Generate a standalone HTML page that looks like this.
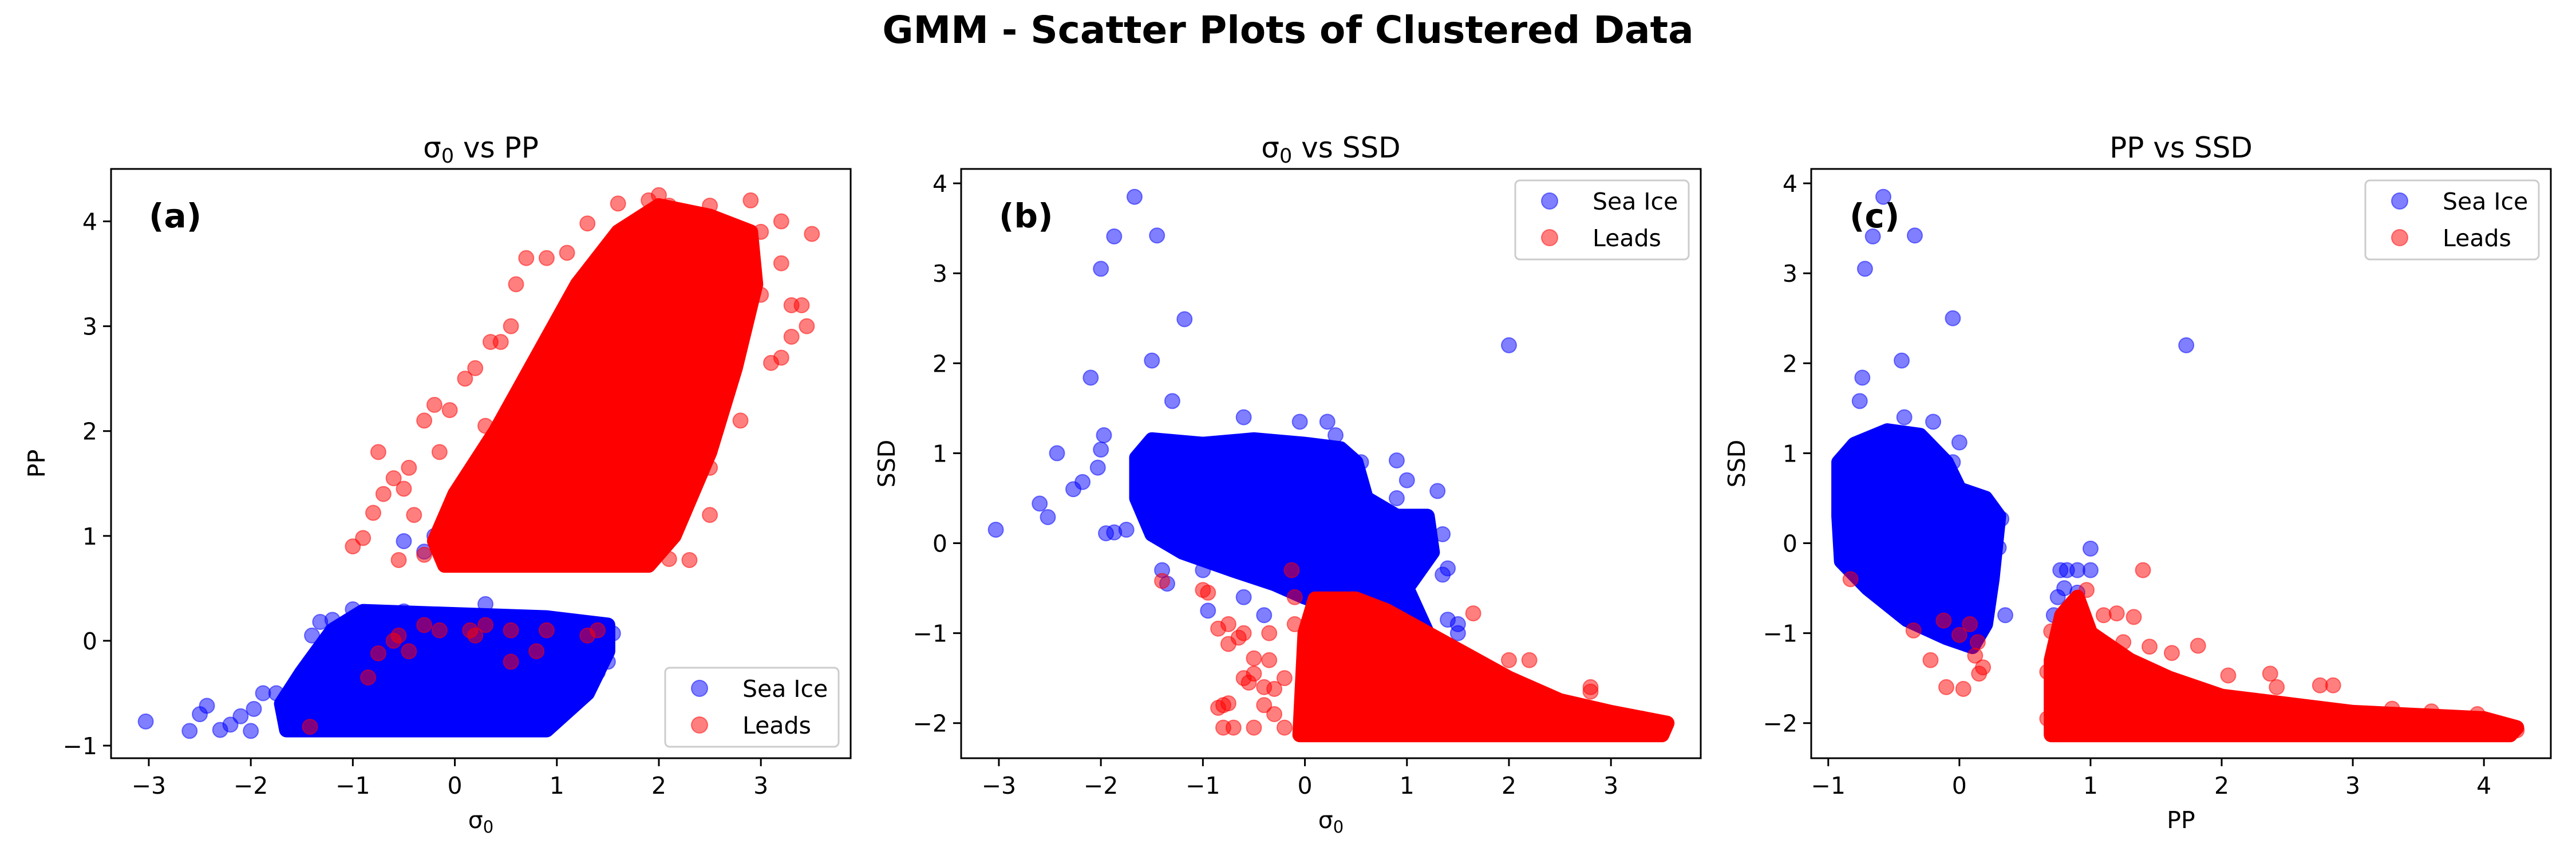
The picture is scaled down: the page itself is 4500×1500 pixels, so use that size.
<!DOCTYPE html>
<html><head><meta charset="utf-8"><style>
html,body{margin:0;padding:0;background:#fff;}
svg{display:block;font-family:"DejaVu Sans","Liberation Sans",sans-serif;}
</style></head><body>
<svg id="fig" width="4500" height="1500" viewBox="0 0 4500 1500" xmlns="http://www.w3.org/2000/svg">
<rect width="4500" height="1500" fill="#fff"/>
<text x="2250" y="75" text-anchor="middle" font-size="66" font-weight="bold">GMM - Scatter Plots of Clustered Data</text>
</svg>
<script>
// ---------- data (panel a: sigma0 vs PP) ----------
const aIceCore = [[-1.65,-0.85],[0.9,-0.85],[1.3,-0.5],[1.5,-0.1],[1.5,0.15],[0.9,0.22],[-0.9,0.28],[-1.2,0.1],[-1.5,-0.3],[-1.7,-0.6]];
const aIcePts = [[-3.03,-0.77],[-2.6,-0.86],[-2.5,-0.7],[-2.43,-0.62],[-2.3,-0.85],[-2.2,-0.8],[-2.1,-0.72],[-2.0,-0.86],[-1.97,-0.65],[-1.88,-0.5],[-1.75,-0.5],[-1.2,0.2],[-1.32,0.18],[-1.4,0.05],[1.4,-0.3],[1.5,-0.2],[1.55,0.07],[0.8,-0.75],[0.3,0.35],[-0.5,0.95],[-0.2,1.0],[-0.3,0.85],[-1.0,0.3],[-0.5,0.28],[0.6,-0.7],[1.1,-0.4]];
const aLeadCore = [[-0.1,0.72],[1.9,0.72],[2.15,1.0],[2.5,1.8],[2.75,2.6],[2.95,3.4],[2.9,3.9],[2.5,4.05],[2.0,4.15],[1.6,3.9],[1.2,3.4],[0.8,2.7],[0.4,2.0],[0,1.4],[-0.2,0.95]];
const aLeadPts = [[-1.0,0.9],[-0.9,0.98],[-0.75,1.8],[-0.8,1.22],[-0.7,1.4],[-0.6,1.55],[-0.5,1.45],[-0.4,1.2],[-0.45,1.65],[-0.3,2.1],[-0.2,2.25],[-0.15,1.8],[-0.05,2.2],[-0.55,0.77],[-0.3,0.82],[0.1,2.5],[0.2,2.6],[0.3,2.05],[0.35,2.85],[0.45,2.85],[0.55,3.0],[0.6,3.4],[0.7,3.65],[0.9,3.65],[1.1,3.7],[1.3,3.98],[1.6,4.17],[1.9,4.2],[2.0,4.25],[2.1,4.15],[2.5,4.15],[2.9,4.2],[3.2,4.0],[3.5,3.88],[3.2,3.6],[3.3,3.2],[3.45,3.0],[3.3,2.9],[3.1,2.65],[3.2,2.7],[2.8,2.1],[2.5,1.65],[2.3,0.77],[2.1,0.78],[3.0,3.9],[3.0,3.3],[2.8,3.0],[3.4,3.2],[2.7,2.5],[2.5,1.2],[-0.55,0.05],[-0.3,0.15],[-0.15,0.1],[0.15,0.1],[0.3,0.15],[0.55,0.1],[0.9,0.1],[1.3,0.05],[0.8,-0.1],[-0.75,-0.12],[-0.45,-0.1],[-0.85,-0.35],[0.55,-0.2],[-1.42,-0.82],[-0.6,0.0],[0.2,0.05],[1.4,0.1]];
// ---------- data (panel b: sigma0 vs SSD) ----------
const bIceCore = [[-1.65,0.95],[-1.5,1.15],[-1.0,1.1],[-0.5,1.15],[0,1.1],[0.35,1.05],[0.5,0.9],[0.6,0.5],[0.9,0.3],[1.2,0.3],[1.25,-0.1],[1.0,-0.5],[1.2,-1.0],[0.9,-1.0],[0.5,-0.8],[0,-0.6],[-0.3,-0.45],[-0.7,-0.3],[-1.2,-0.1],[-1.5,0.1],[-1.65,0.5]];
const bIcePts = [[-3.03,0.15],[-2.6,0.44],[-2.52,0.29],[-2.43,1.0],[-2.27,0.6],[-2.18,0.68],[-2.03,0.84],[-2.0,1.04],[-1.97,1.2],[-1.95,0.11],[-1.87,0.12],[-1.75,0.15],[-2.1,1.84],[-1.5,2.03],[-1.3,1.58],[-1.18,2.49],[-2.0,3.05],[-1.87,3.41],[-1.45,3.42],[-1.67,3.85],[2.0,2.2],[-0.6,1.4],[-0.05,1.35],[0.22,1.35],[0.9,0.92],[1.0,0.7],[1.3,0.58],[1.35,0.1],[1.4,-0.28],[1.35,-0.35],[-1.4,-0.3],[-1.35,-0.45],[-1.0,-0.3],[-0.95,-0.75],[1.5,-1.0],[1.5,-0.9],[1.4,-0.85],[0.55,0.9],[0.3,1.2],[-0.6,-0.6],[-0.4,-0.8],[0.9,0.5],[1.2,0.2]];
const bLeadCore = [[-0.05,-2.13],[3.5,-2.13],[3.55,-2.0],[3.0,-1.88],[2.5,-1.75],[2.0,-1.5],[1.6,-1.25],[1.2,-1.0],[0.8,-0.75],[0.5,-0.62],[0.1,-0.62],[0,-1.0]];
const bLeadPts = [[-1.4,-0.42],[-1.0,-0.52],[-0.95,-0.55],[-0.13,-0.3],[-0.75,-0.9],[-0.85,-0.95],[-0.6,-1.0],[-0.65,-1.05],[-0.75,-1.12],[-0.5,-1.28],[-0.35,-1.3],[-0.5,-1.45],[-0.6,-1.5],[-0.55,-1.55],[-0.4,-1.6],[-0.3,-1.62],[-0.85,-1.83],[-0.8,-1.8],[-0.75,-1.78],[-0.8,-2.05],[-0.7,-2.05],[-0.5,-2.05],[-0.4,-1.8],[1.65,-0.78],[2.0,-1.3],[2.2,-1.3],[2.8,-1.6],[2.8,-1.65],[3.0,-1.9],[3.3,-1.95],[3.5,-2.05],[0.7,-1.0],[0.9,-0.85],[1.2,-1.1],[-0.3,-1.9],[-0.2,-1.5],[-0.1,-0.9],[-0.2,-2.05],[-0.35,-1.0],[-0.1,-0.6]];
// ---------- data (panel c: PP vs SSD) ----------
const cIceCore = [[-0.92,0.9],[-0.8,1.1],[-0.55,1.25],[-0.3,1.2],[-0.1,0.9],[0.0,0.6],[0.2,0.5],[0.3,0.3],[0.25,-0.4],[0.2,-0.9],[0.1,-1.15],[-0.1,-1.05],[-0.4,-0.85],[-0.7,-0.5],[-0.9,-0.2],[-0.92,0.3]];
const cIcePts = [[-0.58,3.85],[-0.66,3.41],[-0.34,3.42],[-0.72,3.05],[-0.05,2.5],[-0.44,2.03],[-0.74,1.84],[-0.76,1.58],[1.73,2.2],[-0.42,1.4],[-0.2,1.35],[0.0,1.12],[-0.05,0.9],[0.32,0.27],[0.3,-0.05],[0.35,-0.8],[-0.52,-0.7],[-0.4,-0.8],[1.0,-0.06],[0.77,-0.3],[0.82,-0.3],[0.9,-0.3],[1.0,-0.3],[0.75,-0.6],[0.72,-0.8],[0.8,-0.5],[0.9,-0.55],[-0.88,0.0],[-0.9,0.25]];
const cLeadCore = [[0.7,-2.13],[4.2,-2.13],[4.25,-2.05],[4.0,-1.95],[3.0,-1.88],[2.0,-1.7],[1.6,-1.5],[1.3,-1.3],[1.0,-1.0],[0.9,-0.6],[0.78,-0.8],[0.7,-1.3]];
const cLeadPts = [[-0.83,-0.4],[1.4,-0.3],[0.97,-0.52],[1.1,-0.8],[1.2,-0.78],[1.33,-0.82],[1.25,-1.1],[1.45,-1.15],[1.62,-1.22],[1.82,-1.14],[2.05,-1.47],[2.37,-1.45],[2.42,-1.6],[2.75,-1.58],[2.85,-1.58],[3.3,-1.84],[3.6,-1.87],[3.95,-1.9],[4.25,-2.08],[-0.35,-0.97],[-0.12,-0.86],[0.08,-0.9],[0.0,-1.02],[-0.22,-1.3],[-0.1,-1.6],[0.03,-1.62],[0.15,-1.45],[0.18,-1.38],[0.12,-1.25],[0.14,-1.1],[0.7,-0.98],[0.67,-1.43],[0.67,-1.95]];
// ticks
const sigmaTicks = [-3,-2,-1,0,1,2,3];
const ppTicksY = [-1,0,1,2,3,4];
const ssdTicks = [-2,-1,0,1,2,3,4];
const ppTicksX = [-1,0,1,2,3,4];

const NS = "http://www.w3.org/2000/svg";
const svg = document.getElementById('fig');
function el(tag, attrs, parent){const e=document.createElementNS(NS,tag);for(const k in attrs)e.setAttribute(k,attrs[k]);(parent||svg).appendChild(e);return e;}
const fmt = v => v<0 ? '\u2212'+Math.abs(v) : ''+v;

function panel(o){
  const g = el('g',{});
  
  
  const L=o.left, R=o.left+1292, T=295, B=1324;
  const sx = v => L + (v-o.xlim[0])/(o.xlim[1]-o.xlim[0])*(R-L);
  const sy = v => B - (v-o.ylim[0])/(o.ylim[1]-o.ylim[0])*(B-T);
  const clip = el('clipPath',{id:'clip'+o.id},g);
  el('rect',{x:L,y:T,width:R-L,height:B-T},clip);
  const plot = el('g',{'clip-path':'url(#clip'+o.id+')'},g);
  function core(arr,color,nm){
    const p = el('polygon',{points:arr.map(d=>sx(d[0])+','+sy(d[1])).join(' '),fill:color,stroke:color,'stroke-width':26,'stroke-linejoin':'round'},plot);
    
    
  }
  function pts(arr,color,nm){
    arr.forEach(d=>{
      const c = el('circle',{cx:sx(d[0]),cy:sy(d[1]),r:13,fill:color,'fill-opacity':0.5,stroke:color,'stroke-opacity':0.5,'stroke-width':2},plot);
      
      
    });
  }
  core(o.iceCore,'#0000ff','sea-ice-cluster-core');
  pts(o.icePts,'#0000ff','sea-ice-point');
  core(o.leadCore,'#ff0000','leads-cluster-core');
  pts(o.leadPts,'#ff0000','leads-point');
  const fr = el('rect',{x:L,y:T,width:R-L,height:B-T,fill:'none',stroke:'#000','stroke-width':3},g);
  
  
  o.xticks.forEach(v=>{
    const x=sx(v);
    el('line',{x1:x,x2:x,y1:B,y2:B+14,stroke:'#000','stroke-width':3},g);
    const t=el('text',{x:x,y:B+62,'text-anchor':'middle','font-size':41},g);
    t.textContent=fmt(v);
    
    
  });
  o.yticks.forEach(v=>{
    const y=sy(v);
    el('line',{x1:L-14,x2:L,y1:y,y2:y,stroke:'#000','stroke-width':3},g);
    const t=el('text',{x:L-24,y:y+15,'text-anchor':'end','font-size':41},g);
    t.textContent=fmt(v);
    
    
  });
  const xl=el('text',{x:(L+R)/2,y:1446,'text-anchor':'middle','font-size':41},g);
  xl.innerHTML=o.xlabel;
  
  
  const yl=el('text',{x:0,y:0,'text-anchor':'middle','font-size':41,transform:'translate('+(L-116)+','+((T+B)/2)+') rotate(-90)'},g);
  yl.textContent=o.ylabel;
  
  
  const ti=el('text',{x:(L+R)/2,y:275,'text-anchor':'middle','font-size':50},g);
  ti.innerHTML=o.title;
  
  
  const pl=el('text',{x:o.labelX,y:397,'font-size':58,'font-weight':'bold'},g);
  pl.textContent=o.label;
  
  
  // legend
  const lg=el('g',{},g);
  
  
  el('rect',{x:o.leg[0],y:o.leg[1],width:303,height:138,rx:8,fill:'#fff','fill-opacity':0.8,stroke:'#cccccc','stroke-width':3},lg);
  [['Sea Ice','#0000ff',36],['Leads','#ff0000',100]].forEach(e=>{
    const it=el('g',{},lg);
    
    
    el('circle',{cx:o.leg[0]+60,cy:o.leg[1]+e[2],r:14,fill:e[1],'fill-opacity':0.5,stroke:e[1],'stroke-opacity':0.5,'stroke-width':2},it);
    const t=el('text',{x:o.leg[0]+135,y:o.leg[1]+e[2]+15,'font-size':41},it);
    t.textContent=e[0];
  });
}
const sig='σ<tspan font-size="29" dy="8">0</tspan>';
panel({id:'a',name:'panel-sigma0-vs-pp',left:194,xlim:[-3.37,3.88],ylim:[-1.12,4.5],iceCore:aIceCore,icePts:aIcePts,leadCore:aLeadCore,leadPts:aLeadPts,xticks:sigmaTicks,yticks:ppTicksY,xlabel:sig,ylabel:'PP',title:'σ<tspan font-size="35" dy="9">0</tspan><tspan dy="-9"> vs PP</tspan>',label:'(a)',labelX:260,leg:[1162,1166]});
panel({id:'b',name:'panel-sigma0-vs-ssd',left:1679,xlim:[-3.37,3.88],ylim:[-2.39,4.16],iceCore:bIceCore,icePts:bIcePts,leadCore:bLeadCore,leadPts:bLeadPts,xticks:sigmaTicks,yticks:ssdTicks,xlabel:sig,ylabel:'SSD',title:'σ<tspan font-size="35" dy="9">0</tspan><tspan dy="-9"> vs SSD</tspan>',label:'(b)',labelX:1745,leg:[2647,315]});
panel({id:'c',name:'panel-pp-vs-ssd',left:3164,xlim:[-1.13,4.51],ylim:[-2.39,4.16],iceCore:cIceCore,icePts:cIcePts,leadCore:cLeadCore,leadPts:cLeadPts,xticks:ppTicksX,yticks:ssdTicks,xlabel:'PP',ylabel:'SSD',title:'PP vs SSD',label:'(c)',labelX:3231,leg:[4132,315]});
</script>
</body></html>
